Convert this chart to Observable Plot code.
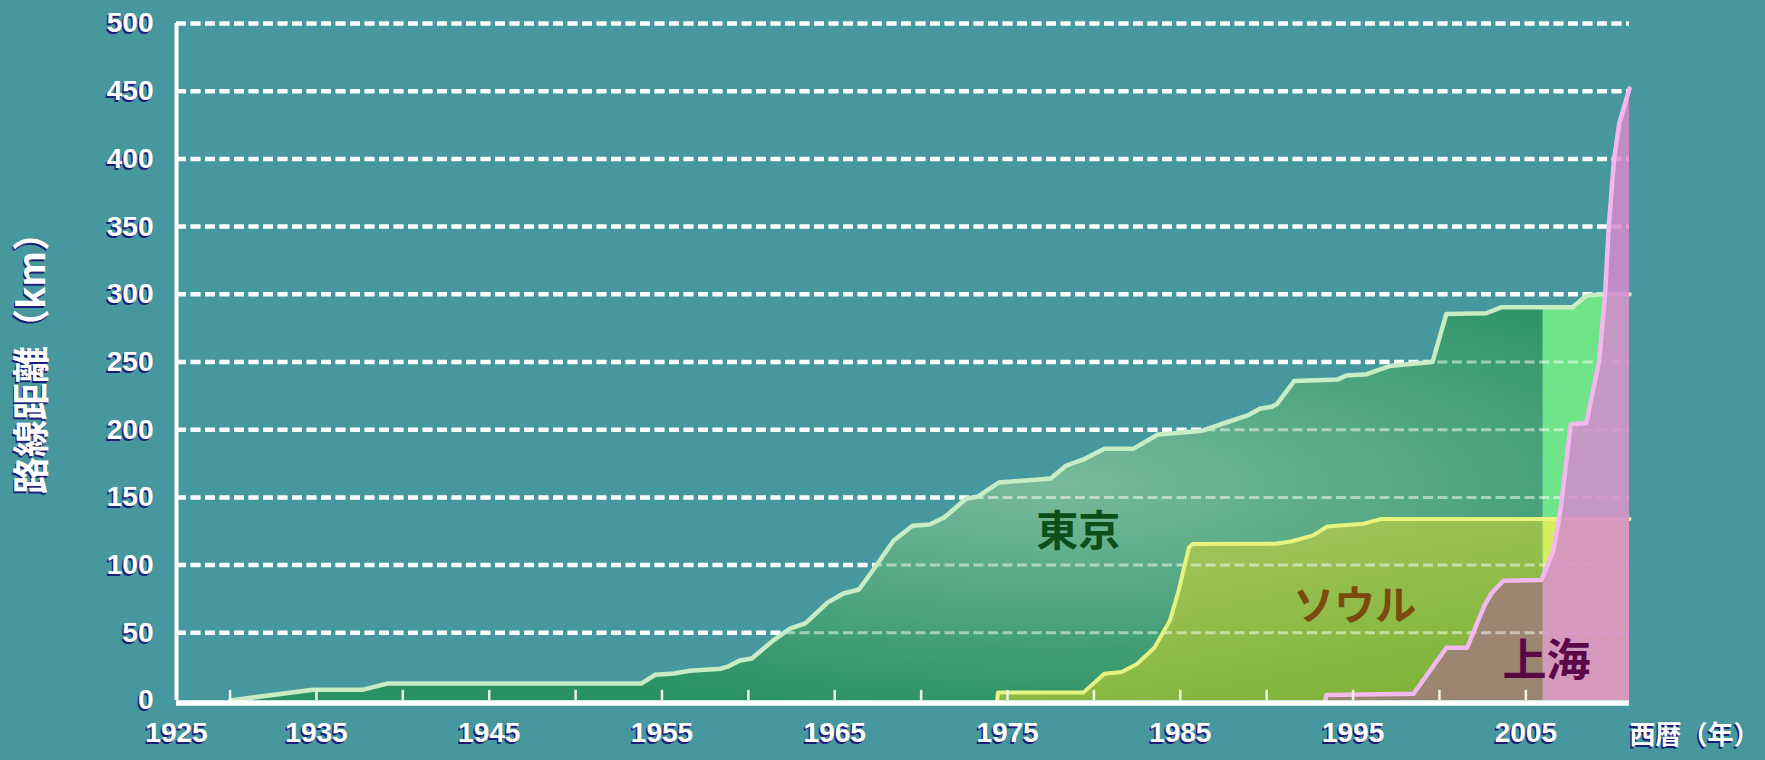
<!DOCTYPE html>
<html>
<head>
<meta charset="utf-8">
<script src="https://cdn.jsdelivr.net/npm/d3@7"></script>
<script src="https://cdn.jsdelivr.net/npm/@observablehq/plot@0.6"></script>
<style>
html, body { margin: 0; padding: 0; background: #46979E; }
#chart svg { display: block; }
</style>
</head>
<body>
<div id="chart"></div>
<script>
// ---------- data ----------
const tokyoYears = [1930.0, 1934.8, 1937.7, 1939.1, 1953.8, 1954.6, 1955.7, 1956.6, 1958.4, 1958.8,
  1959.5, 1960.2, 1961.4, 1962.4, 1963.3, 1964.6, 1965.5, 1966.4, 1967.2, 1968.4,
  1969.5, 1970.5, 1971.3, 1971.6, 1972.6, 1973.3, 1974.5, 1977.5, 1978.4, 1979.4,
  1980.6, 1982.3, 1983.7, 1986.2, 1987.7, 1988.9, 1989.6, 1990.3, 1990.6, 1991.6,
  1994.1, 1994.6, 1995.8, 1997.1, 1999.6, 2000.4, 2002.7, 2003.6, 2006.0, 2007.7,
  2008.5, 2009.4, 2011.0];
const tokyoKm = [0, 8, 8, 12.5, 12.5, 19, 20, 22, 23.5, 25,
  29.5, 31, 44, 53, 57, 72.5, 79, 82, 96, 118,
  129, 130, 135, 138, 149, 150.7, 161, 164, 173.5, 178,
  186, 186, 196.5, 199, 205.5, 210.5, 215.5, 217, 219, 236,
  237, 240, 241, 247, 250, 285.5, 286, 290.5, 290.5, 290.5,
  299, 300, 300];

const seoulYears = [1974.4, 1974.45, 1979.4, 1980.6, 1981.6, 1982.5, 1983.5, 1984.4, 1984.9, 1985.5,
  1985.7, 1990.5, 1991.4, 1992.7, 1993.5, 1995.6, 1996.6, 2006.0, 2011.0];
const seoulKm = [0, 6, 6, 19.7, 21, 27, 39, 59, 81, 113,
  115.5, 115.7, 117.4, 122, 128.5, 130.5, 134, 134, 134];

const shanghaiYears = [1993.4, 1993.45, 1998.5, 2000.4, 2001.6, 2002.6, 2003.0, 2003.7, 2005.9, 2006.0,
  2006.6, 2007.0, 2007.6, 2008.5, 2009.25, 2009.6, 2009.8, 2010.1, 2010.4, 2011.0];
const shanghaiKm = [0, 4, 5, 39, 39, 70, 79, 88.5, 89, 92,
  111, 140, 204, 205, 251, 303, 350, 399, 426, 452];

const gridValues = [50, 100, 150, 200, 250, 300, 350, 400, 450, 500];
const yTickValues = [0, 50, 100, 150, 200, 250, 300, 350, 400, 450, 500];
const xTickYears = [1930, 1935, 1940, 1945, 1950, 1955, 1960, 1965, 1970, 1975, 1980, 1985, 1990, 1995, 2000, 2005];
const xLabelYears = [1925, 1935, 1945, 1955, 1965, 1975, 1985, 1995, 2005];
const xLabels = ["1925", "1935", "1945", "1955", "1965", "1975", "1985", "1995", "2005"];

const cityNames = ["東京", "ソウル", "上海"];
const yTitle = "路線距離（km）";
const xTitle = "西暦（年）";

// ---------- derived tables ----------
const X_MIN = 1926.9, X_MAX = 2011.0, SPLIT = 2006.0;
const toRows = (xs, ys) => xs.map((x, i) => ({x, y: ys[i]}));
const tokyo = toRows(tokyoYears, tokyoKm);
const seoul = toRows(seoulYears, seoulKm);
const shanghai = toRows(shanghaiYears, shanghaiKm);
const before = rows => rows.filter(d => d.x <= SPLIT);
const after = rows => rows.filter(d => d.x >= SPLIT);
const xLabelRows = xLabelYears.map((yr, i) => ({x: Math.max(yr, X_MIN), t: xLabels[i]}));

const NUM_FONT = "'Liberation Sans', Arial, sans-serif";
const JP_FONT = "'Noto Sans CJK JP', sans-serif";
const SHADOW = "#1e1e78";

function shadowed(data, opts, sdx = -1.5, sdy = 2) {
  return [
    Plot.text(data, {...opts, fill: SHADOW, dx: (opts.dx || 0) + sdx, dy: (opts.dy || 0) + sdy}),
    Plot.text(data, {...opts, fill: "white"})
  ];
}

const dash = "10,4.5";

const svg = Plot.plot({
  width: 1765,
  height: 760,
  marginLeft: 176,
  marginRight: 136,
  marginTop: 23,
  marginBottom: 60,
  style: {background: "#46979E", overflow: "visible"},
  x: {domain: [X_MIN, X_MAX], axis: null},
  y: {domain: [0, 500], axis: null},
  marks: [
    // grid (under areas)
    Plot.ruleY(gridValues, {stroke: "white", strokeWidth: 4.5, strokeDasharray: dash}),
    // areas (existing lines up to 2006)
    Plot.areaY(before(tokyo), {x: "x", y: "y", fill: "url(#gTokyo)"}),
    Plot.areaY(after(tokyo), {x: "x", y: "y", fill: "#70e488"}),
    Plot.areaY(before(seoul), {x: "x", y: "y", fill: "url(#gSeoul)"}),
    Plot.areaY(after(seoul), {x: "x", y: "y", fill: "#d6ee5e"}),
    Plot.areaY(before(shanghai), {x: "x", y: "y", fill: "#9c8571"}),
    // grid seen through areas
    Plot.ruleY(gridValues, {stroke: "white", strokeOpacity: 0.5, strokeWidth: 3, strokeDasharray: dash}),
    // outlines
    Plot.line(tokyo, {x: "x", y: "y", stroke: "#c8ecc4", strokeWidth: 4.5, strokeLinejoin: "round"}),
    Plot.line(seoul, {x: "x", y: "y", stroke: "#e8f27e", strokeWidth: 4, strokeLinejoin: "round"}),
    Plot.areaY(after(shanghai), {x: "x", y: "y", fill: "#d68acf", fillOpacity: 0.85}),
    Plot.line(shanghai, {x: "x", y: "y", stroke: "#f4b8f0", strokeWidth: 4.5, strokeLinejoin: "round"}),
    // year ticks
    Plot.ruleX(xTickYears, {y1: 0, y2: 7.5, stroke: "#eef6e2", strokeWidth: 2.5}),
    // axes lines
    Plot.ruleX([X_MIN], {y1: 0, y2: 500, stroke: "white", strokeWidth: 4}),
    Plot.ruleY([0], {stroke: "white", strokeWidth: 5.5, dy: 2.5}),
    // city labels
    Plot.text([cityNames[0]], {x: 1979.1, y: 124, text: d => d, fill: "#0d4f1a", fontSize: 42, fontWeight: "bold", fontFamily: JP_FONT, letterSpacing: 9}),
    Plot.text([cityNames[1]], {x: 1995.1, y: 69.5, text: d => d, fill: "#7a4a0e", fontSize: 41, fontWeight: "bold", fontFamily: JP_FONT}),
    Plot.text([cityNames[2]], {x: 2006.2, y: 28.8, text: d => d, fill: "#5a0848", fontSize: 44, fontWeight: "bold", fontFamily: JP_FONT, letterSpacing: 2}),
    // y tick labels
    ...shadowed(yTickValues, {y: d => d, text: d => String(d), frameAnchor: "left", dx: -23, textAnchor: "end",
      fontSize: 28, fontWeight: "bold", fontFamily: NUM_FONT}),
    // x tick labels
    ...shadowed(xLabelRows, {x: "x", text: "t", frameAnchor: "bottom", dy: 41, textAnchor: "middle",
      fontSize: 28, fontWeight: "bold", fontFamily: NUM_FONT}),
    // axis titles
    ...shadowed([xTitle], {text: d => d, frameAnchor: "bottom-right", dx: 0, dy: 43, textAnchor: "start",
      fontSize: 26, fontWeight: "bold", fontFamily: JP_FONT}),
    ...shadowed([yTitle], {text: d => d, frameAnchor: "left", dx: -143, dy: -8, rotate: -90, textAnchor: "middle",
      fontSize: 37, fontWeight: "bold", fontFamily: JP_FONT})
  ]
});

// gradient definitions
const NS = "http://www.w3.org/2000/svg";
const defs = document.createElementNS(NS, "defs");
function grad(type, id, attrs, stops) {
  const g = document.createElementNS(NS, type);
  g.setAttribute("id", id);
  for (const [k, v] of Object.entries(attrs)) g.setAttribute(k, v);
  for (const [off, col] of stops) {
    const s = document.createElementNS(NS, "stop");
    s.setAttribute("offset", off);
    s.setAttribute("stop-color", col);
    g.appendChild(s);
  }
  defs.appendChild(g);
}
grad("radialGradient", "gTokyo", {cx: 0.63, cy: 0.45, r: 0.6},
  [[0, "#78ba9a"], [0.45, "#55a983"], [1, "#2a9262"]]);
grad("linearGradient", "gSeoul", {x1: 0.2, y1: 0, x2: 0.8, y2: 1},
  [[0, "#a8c762"], [1, "#7cb336"]]);
svg.insertBefore(defs, svg.firstChild);

document.getElementById("chart").appendChild(svg);
</script>
</body>
</html>
